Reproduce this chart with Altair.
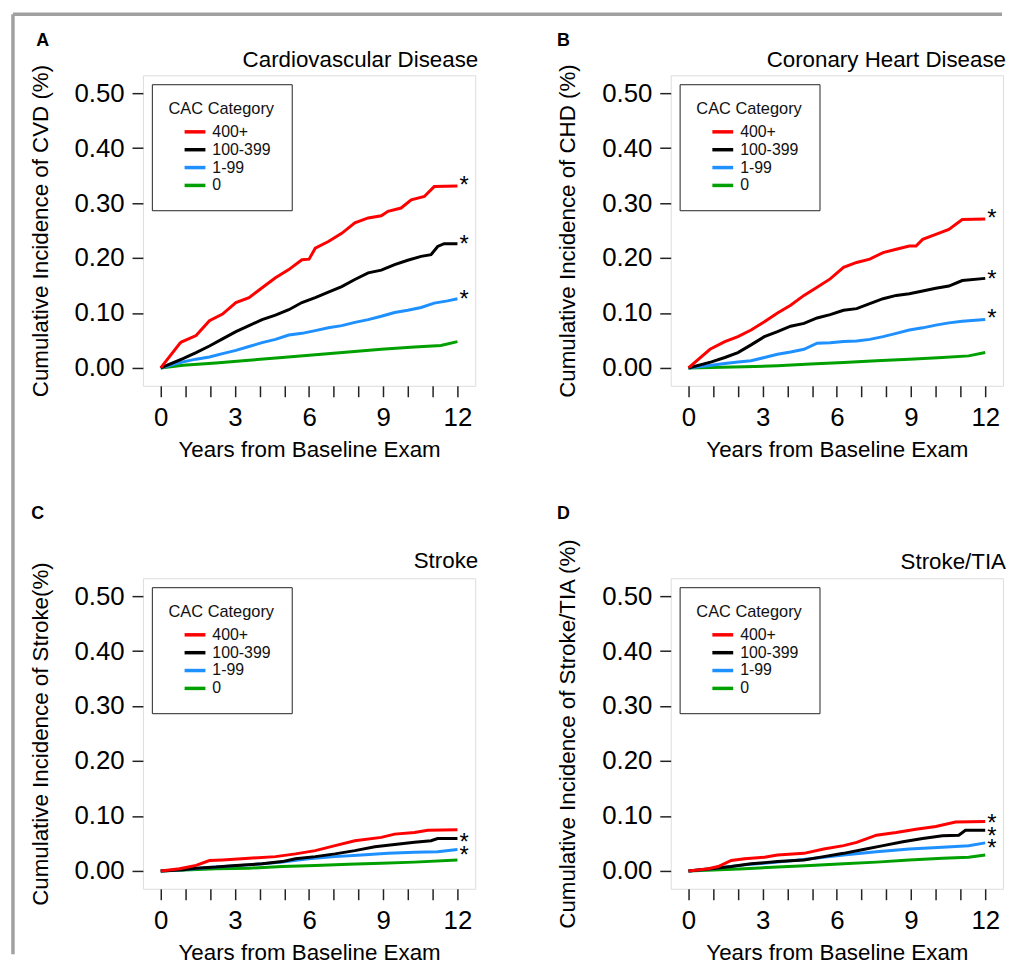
import altair as alt
import pandas as pd

FONT = "Liberation Sans"
CATS = ["400+", "100-399", "1-99", "0"]
COLORS = ["#ff0000", "#000000", "#1e90ff", "#00a000"]

# ---------- Panel A: Cardiovascular Disease ----------
a_red_t = [0, 0.76, 0.83, 1.43, 1.97, 2.5, 3.04, 3.57, 4.1, 4.64, 5.18, 5.71, 6.0, 6.25, 6.78, 7.32, 7.85, 8.39, 8.92, 9.19, 9.72, 10.13, 10.66, 11.06, 12]
a_red_v = [0, 0.044, 0.047, 0.059, 0.086, 0.098, 0.119, 0.128, 0.146, 0.164, 0.179, 0.197, 0.198, 0.218, 0.230, 0.245, 0.264, 0.273, 0.277, 0.285, 0.291, 0.306, 0.312, 0.330, 0.331]
a_blk_t = [0, 0.9, 1.43, 1.97, 2.5, 3.04, 3.57, 4.1, 4.64, 5.18, 5.71, 6.25, 6.78, 7.32, 7.85, 8.39, 8.92, 9.46, 9.99, 10.53, 10.93, 11.2, 11.46, 12]
a_blk_v = [0, 0.017, 0.028, 0.040, 0.053, 0.066, 0.077, 0.088, 0.096, 0.106, 0.119, 0.128, 0.138, 0.148, 0.161, 0.173, 0.178, 0.188, 0.196, 0.203, 0.206, 0.221, 0.226, 0.226]
a_blu_t = [0, 0.9, 1.43, 1.97, 2.5, 3.04, 3.57, 4.1, 4.64, 5.18, 5.71, 6.25, 6.78, 7.32, 7.85, 8.39, 8.92, 9.46, 9.99, 10.53, 11.06, 11.6, 12]
a_blu_v = [0, 0.011, 0.016, 0.020, 0.026, 0.032, 0.039, 0.046, 0.052, 0.060, 0.063, 0.068, 0.073, 0.077, 0.083, 0.088, 0.094, 0.101, 0.105, 0.110, 0.118, 0.122, 0.126]
a_grn_t = [0, 0.9, 2.23, 3.57, 4.91, 6.25, 7.59, 8.92, 10.26, 11.33, 12]
a_grn_v = [0, 0.005, 0.009, 0.014, 0.019, 0.024, 0.029, 0.034, 0.038, 0.041, 0.048]
a_star_cat = ["400+", "100-399", "1-99"]
a_star_v = [0.341, 0.235, 0.135]

# ---------- Panel B: Coronary Heart Disease ----------
b_red_t = [0, 0.87, 1.47, 2.0, 2.53, 3.07, 3.6, 4.13, 4.67, 5.2, 5.73, 6.27, 6.8, 7.33, 7.87, 8.4, 8.93, 9.2, 9.47, 10.0, 10.53, 11.07, 12]
b_red_v = [0, 0.034, 0.048, 0.057, 0.069, 0.084, 0.100, 0.114, 0.132, 0.147, 0.162, 0.183, 0.192, 0.198, 0.210, 0.216, 0.222, 0.222, 0.234, 0.243, 0.252, 0.270, 0.271]
b_blk_t = [0, 0.93, 1.47, 2.0, 2.53, 3.07, 3.6, 4.13, 4.67, 5.2, 5.73, 6.27, 6.8, 7.33, 7.87, 8.4, 8.93, 9.47, 10.0, 10.53, 11.07, 12]
b_blk_v = [0, 0.011, 0.019, 0.028, 0.042, 0.057, 0.066, 0.076, 0.081, 0.091, 0.097, 0.105, 0.108, 0.117, 0.126, 0.132, 0.135, 0.140, 0.145, 0.149, 0.159, 0.163]
b_blu_t = [0, 0.93, 1.47, 2.0, 2.53, 3.07, 3.6, 4.13, 4.67, 5.2, 5.73, 6.27, 6.8, 7.33, 7.87, 8.4, 8.93, 9.47, 10.0, 10.53, 11.07, 12]
b_blu_v = [0, 0.005, 0.008, 0.011, 0.013, 0.019, 0.025, 0.029, 0.034, 0.045, 0.046, 0.048, 0.049, 0.052, 0.057, 0.063, 0.069, 0.073, 0.078, 0.082, 0.085, 0.088]
b_grn_t = [0, 2.27, 3.6, 4.93, 6.27, 7.6, 8.93, 10.27, 11.33, 12]
b_grn_v = [0, 0.002, 0.004, 0.007, 0.010, 0.013, 0.016, 0.019, 0.022, 0.028]
b_star_cat = ["400+", "100-399", "1-99"]
b_star_v = [0.282, 0.171, 0.1005]

# ---------- Panel C: Stroke ----------
c_red_t = [0, 0.76, 1.43, 1.97, 2.5, 3.57, 4.64, 5.45, 6.25, 7.05, 7.85, 8.92, 9.46, 10.26, 10.8, 12]
c_red_v = [0, 0.004, 0.010, 0.019, 0.020, 0.023, 0.026, 0.031, 0.037, 0.046, 0.055, 0.061, 0.067, 0.070, 0.074, 0.075]
c_blk_t = [0, 0.9, 1.43, 2.23, 3.04, 4.1, 4.91, 5.45, 6.25, 7.05, 7.85, 8.66, 9.46, 10.26, 10.93, 11.2, 12]
c_blk_v = [0, 0.002, 0.005, 0.007, 0.010, 0.013, 0.017, 0.022, 0.026, 0.031, 0.037, 0.044, 0.048, 0.052, 0.055, 0.059, 0.059]
c_blu_t = [0, 0.9, 2.23, 3.57, 4.91, 5.98, 7.05, 8.12, 9.19, 10.26, 11.2, 12]
c_blu_v = [0, 0.002, 0.007, 0.011, 0.016, 0.022, 0.026, 0.029, 0.032, 0.034, 0.035, 0.039]
c_grn_t = [0, 2.23, 3.57, 4.91, 6.25, 7.59, 8.92, 10.26, 12]
c_grn_v = [0, 0.004, 0.005, 0.008, 0.010, 0.012, 0.014, 0.016, 0.020]
c_star_cat = ["100-399", "1-99"]
c_star_v = [0.0623, 0.0374]

# ---------- Panel D: Stroke/TIA ----------
d_red_t = [0, 0.8, 1.2, 1.73, 2.27, 3.07, 3.6, 4.67, 5.47, 6.27, 6.8, 7.6, 8.4, 9.2, 10.0, 10.8, 12]
d_red_v = [0, 0.004, 0.008, 0.019, 0.022, 0.025, 0.029, 0.032, 0.040, 0.046, 0.052, 0.065, 0.070, 0.076, 0.081, 0.089, 0.090]
d_blk_t = [0, 0.93, 1.73, 2.53, 3.6, 4.67, 5.47, 6.27, 7.07, 7.87, 8.67, 9.47, 10.27, 10.93, 11.2, 12]
d_blk_v = [0, 0.004, 0.008, 0.013, 0.017, 0.020, 0.026, 0.032, 0.039, 0.046, 0.053, 0.059, 0.064, 0.065, 0.074, 0.074]
d_blu_t = [0, 0.93, 2.27, 3.6, 4.93, 6.27, 7.6, 8.93, 10.27, 11.33, 12]
d_blu_v = [0, 0.004, 0.011, 0.016, 0.022, 0.029, 0.035, 0.040, 0.043, 0.046, 0.051]
d_grn_t = [0, 2.27, 3.6, 4.93, 6.27, 7.6, 8.93, 10.27, 11.33, 12]
d_grn_v = [0, 0.004, 0.007, 0.010, 0.013, 0.016, 0.020, 0.023, 0.025, 0.029]
d_star_cat = ["400+", "100-399", "1-99"]
d_star_v = [0.0969, 0.0731, 0.0505]

X_TICKS = list(range(13))
Y_TICKS = [0.0, 0.1, 0.2, 0.3, 0.4, 0.5]
X_TITLE = "Years from Baseline Exam"

X_SCALE = alt.Scale(domain=[-0.72, 12.72], nice=False, zero=False)
Y_SCALE = alt.Scale(domain=[-0.0325, 0.5325], nice=False, zero=False)

PANEL_W = 335
PANEL_H = 313


def x_axis():
    return alt.Axis(
        values=X_TICKS, title=X_TITLE,
        labelExpr="datum.value % 3 == 0 ? datum.label : ''",
        grid=False, domain=False, tickSize=11, tickWidth=1.5,
        tickColor="#222222", labelFontSize=26, labelPadding=8,
        labelColor="black", labelFont=FONT, labelFlush=False,
        labelOverlap=False, titleFontSize=22.5, titleFontWeight="normal",
        titleFont=FONT, titleColor="black", titlePadding=8)


def y_axis(title):
    return alt.Axis(
        values=Y_TICKS, format=".2f", title=title,
        grid=False, domain=False, tickSize=11, tickWidth=1.5,
        tickColor="#222222", labelFontSize=26, labelPadding=8,
        labelColor="black", labelFont=FONT, labelFlush=False,
        labelOverlap=False, titleFontSize=22.5, titleFontWeight="normal",
        titleFont=FONT, titleColor="black", titlePadding=22)


def make_panel(letter, title, ytitle, series, star_cat, star_v,
               title_y, letter_x, letter_y, frame=False):
    rows = []
    # draw green first, red last (on top)
    for cat, (ts, vs) in reversed(list(zip(CATS, series))):
        for t, v in zip(ts, vs):
            rows.append({"t": t, "v": v, "cat": cat})
    df = pd.DataFrame(rows)

    legend = alt.Legend(
        title="CAC Category", orient="top-left", offset=9,
        strokeColor="#222222", fillColor="white", padding=17,
        titleFontSize=16.5, titleFontWeight="normal", titleFont=FONT,
        titleColor="#111111", titleAnchor="middle", titlePadding=5,
        labelFontSize=16, labelFont=FONT, labelColor="#111111",
        symbolType="M-1.4,0H1.4", symbolSize=225, symbolStrokeWidth=3.5,
        symbolOffset=13, labelOffset=8, rowPadding=0,
    )

    lines = alt.Chart(df).mark_line(strokeWidth=3, clip=True).encode(
        x=alt.X("t:Q", scale=X_SCALE, axis=x_axis()),
        y=alt.Y("v:Q", scale=Y_SCALE, axis=y_axis(ytitle)),
        color=alt.Color("cat:N", scale=alt.Scale(domain=CATS, range=COLORS),
                        legend=legend),
    )

    stars_df = pd.DataFrame({"t": [12] * len(star_v), "v": star_v, "cat": star_cat})
    stars = alt.Chart(stars_df).mark_text(
        text="*", fontSize=24, font=FONT, align="left", baseline="alphabetic",
        dx=2, dy=13, color="black"
    ).encode(x=alt.X("t:Q", scale=X_SCALE, axis=x_axis()),
             y=alt.Y("v:Q", scale=Y_SCALE, axis=y_axis(ytitle)))

    one = pd.DataFrame({"k": [0]})
    letter_mark = alt.Chart(one).mark_text(
        text=letter, fontSize=18, fontWeight="bold", font=FONT,
        align="center", baseline="alphabetic", color="black"
    ).encode(x=alt.value(letter_x), y=alt.value(letter_y))

    title_mark = alt.Chart(one).mark_text(
        text=title, fontSize=22.5, font=FONT, align="right",
        baseline="alphabetic", color="black"
    ).encode(x=alt.value(PANEL_W + 3), y=alt.value(title_y))

    layers = []
    if frame:
        top_line = alt.Chart(one).mark_rule(color="#a0a0a0", strokeWidth=3.5).encode(
            x=alt.value(-131), x2=alt.value(866), y=alt.value(-61.5))
        left_line = alt.Chart(one).mark_rule(color="#a0a0a0", strokeWidth=3.5).encode(
            x=alt.value(-131), y=alt.value(-61.5), y2=alt.value(886))
        layers += [top_line, left_line]
    layers += [lines, stars, letter_mark, title_mark]

    return alt.layer(*layers).properties(width=PANEL_W, height=PANEL_H)


pA = make_panel("A", "Cardiovascular Disease", "Cumulative Incidence of CVD (%)",
                [(a_red_t, a_red_v), (a_blk_t, a_blk_v), (a_blu_t, a_blu_v), (a_grn_t, a_grn_v)],
                a_star_cat, a_star_v, -8, -101, -30, frame=True)
pB = make_panel("B", "Coronary Heart Disease", "Cumulative Incidence of CHD (%)",
                [(b_red_t, b_red_v), (b_blk_t, b_blk_v), (b_blu_t, b_blu_v), (b_grn_t, b_grn_v)],
                b_star_cat, b_star_v, -8, -108, -30)
pC = make_panel("C", "Stroke", "Cumulative Incidence of Stroke(%)",
                [(c_red_t, c_red_v), (c_blk_t, c_blk_v), (c_blu_t, c_blu_v), (c_grn_t, c_grn_v)],
                c_star_cat, c_star_v, -10, -106, -60)
pD = make_panel("D", "Stroke/TIA", "Cumulative Incidence of Stroke/TIA (%)",
                [(d_red_t, d_red_v), (d_blk_t, d_blk_v), (d_blu_t, d_blu_v), (d_grn_t, d_grn_v)],
                d_star_cat, d_star_v, -9, -108, -60)

chart = alt.concat(
    pA, pB, pC, pD, columns=2,
    spacing={"row": 194, "column": 197}, bounds="flush",
).resolve_scale(color="independent").resolve_legend(color="independent").properties(
    padding={"left": 2, "top": 0, "right": 0, "bottom": 0},
).configure_view(stroke="#222222", strokeWidth=1.5).configure(background="white")

chart.save("out.html", embed_options={"renderer": "svg", "actions": False})
